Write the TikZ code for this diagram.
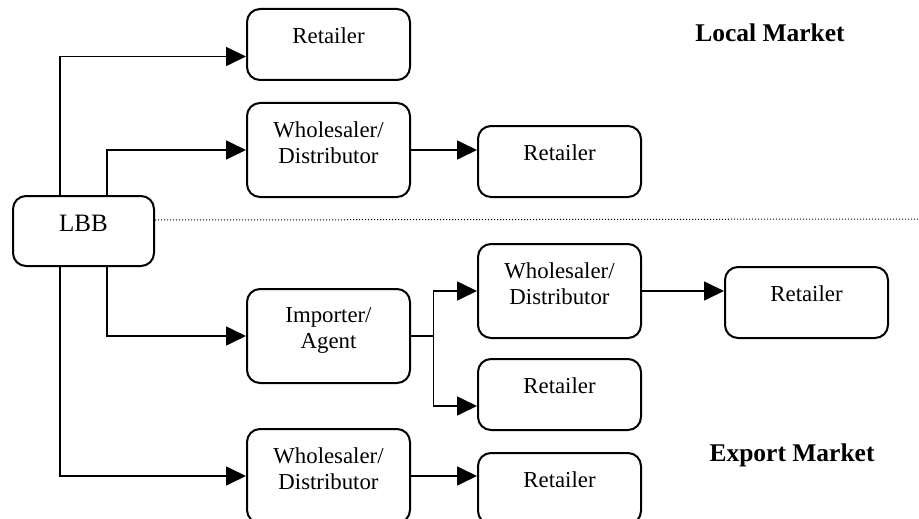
\documentclass[tikz,border=0pt]{standalone}
\usepackage{fontspec}
\setmainfont{Liberation Serif}
\usetikzlibrary{arrows.meta,calc}

\tikzset{
  box/.style={draw, line width=2pt, rounded corners=13pt, inner sep=0pt, anchor=north west},
  shortbox/.style={box, minimum width=163pt, minimum height=71pt},
  tallbox/.style={box, minimum width=163pt, minimum height=94pt},
  boxtext/.style={anchor=north, inner sep=0pt, align=center, font=\fontsize{22.8}{26}\selectfont},
  region/.style={anchor=base, inner sep=0pt, font=\fontsize{25.5}{30}\selectfont\bfseries},
  conn/.style={line width=1.7pt, -{Triangle[length=20pt,width=19pt]}},
  plain/.style={line width=1.7pt},
  divider/.style={line width=1pt, dash pattern=on 1pt off 2pt}
}

\begin{document}
\begin{tikzpicture}[x=1pt,y=-1pt]
\useasboundingbox (0,0) rectangle (919,519);

% source
\node[box, minimum width=141pt, minimum height=70pt] (lbb) at (12,195) {};
\node[boxtext, font=\fontsize{25}{28}\selectfont] (lbbt) at ([yshift=-20pt]lbb.north) {LBB};

% local market channels
\node[shortbox] (r1) at (246,8) {};
\node[boxtext] (r1t) at ([yshift=-19.6pt]r1.north) {Retailer};
\node[tallbox] (wd1) at (246,102) {};
\node[boxtext] (wd1t) at ([yshift=-19.6pt]wd1.north) {Wholesaler/\\Distributor};
\node[shortbox] (r2) at (477,125) {};
\node[boxtext] (r2t) at ([yshift=-19.6pt]r2.north) {Retailer};

% export market channels
\node[tallbox] (wd2) at (477,243) {};
\node[boxtext] (wd2t) at ([yshift=-19.6pt]wd2.north) {Wholesaler/\\Distributor};
\node[shortbox] (r3) at (724,266) {};
\node[boxtext] (r3t) at ([yshift=-19.6pt]r3.north) {Retailer};
\node[tallbox] (imp) at (246,288) {};
\node[boxtext] (impt) at ([yshift=-19.6pt]imp.north) {Importer/\\Agent};
\node[shortbox] (r4) at (477,358) {};
\node[boxtext] (r4t) at ([yshift=-19.6pt]r4.north) {Retailer};
\node[tallbox] (wd3) at (246,428) {};
\node[boxtext] (wd3t) at ([yshift=-19.6pt]wd3.north) {Wholesaler/\\Distributor};
\node[shortbox] (r5) at (477,452) {};
\node[boxtext] (r5t) at ([yshift=-19.6pt]r5.north) {Retailer};

% region labels
\node[region] (local) at (770,41.5) {Local Market};
\node[region] (export) at (792,461.5) {Export Market};

% divider between the two markets
\coordinate (rim) at (919,219);
\draw[divider] ([yshift=11pt]lbb.east) -- (rim);

% connectors
\draw[conn] ([xshift=-23.5pt]lbb.north) |- ([yshift=-12pt]r1.west);
\draw[conn] ([xshift=23.5pt]lbb.north) |- (wd1.west);
\draw[conn] (wd1.east) -- (wd1.east -| r2.west);
\draw[conn] ([xshift=23.5pt]lbb.south) |- (imp.west);
\draw[conn] ([xshift=-23.5pt]lbb.south) |- (wd3.west);
\draw[conn] (wd3.east) -- (wd3.east -| r5.west);
\draw[conn] (wd2.east) -- (wd2.east -| r3.west);

\coordinate (split) at ([xshift=22.5pt]imp.east);
\draw[plain] (imp.east) -- (split);
\draw[conn] (split) |- (wd2.west);
\draw[conn] (split) |- ([yshift=-11.5pt]r4.west);
\end{tikzpicture}
\end{document}
